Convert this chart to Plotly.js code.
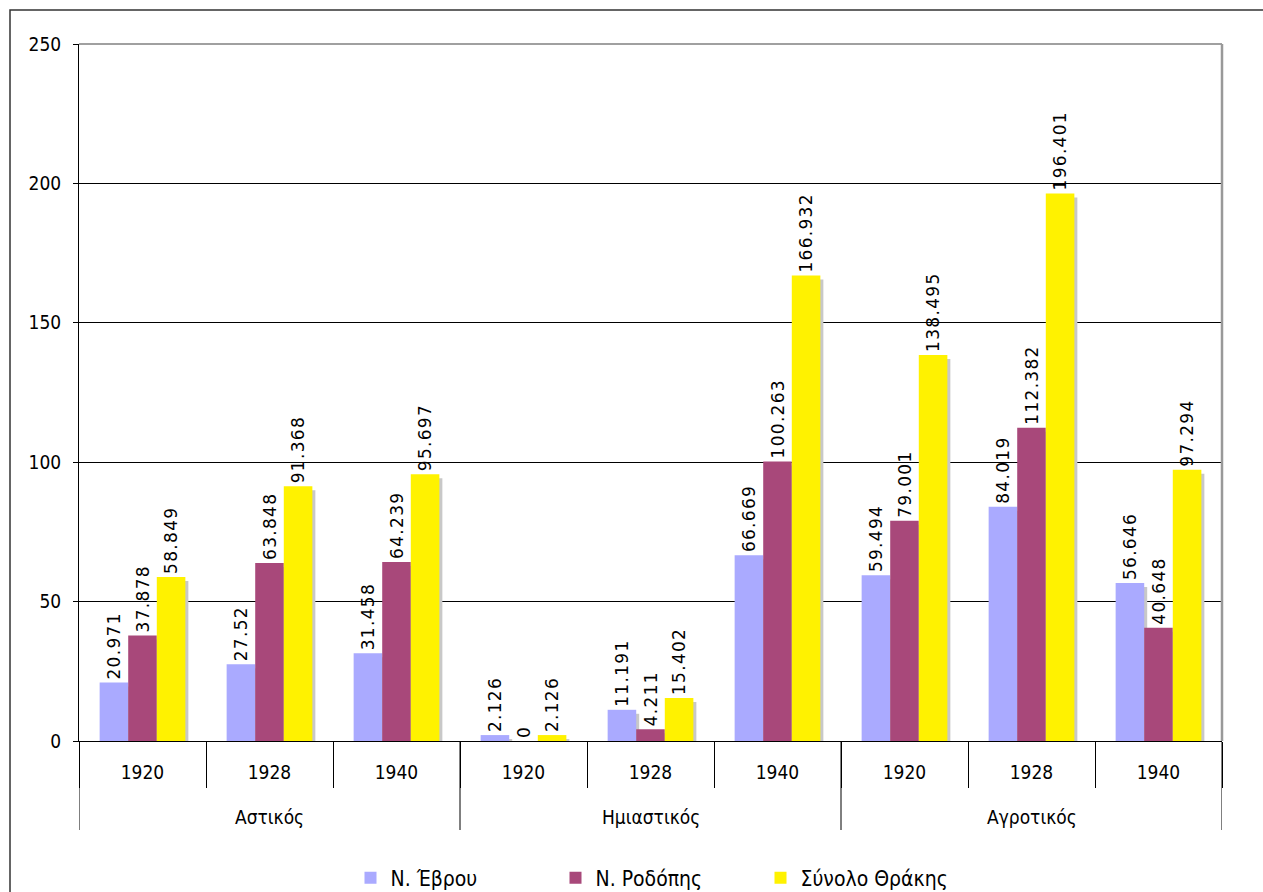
<!DOCTYPE html>
<html>
<head>
<meta charset="utf-8">
<script src="https://cdn.plot.ly/plotly-3.0.1.min.js"></script>
<style>
html,body{margin:0;padding:0;background:#fff;}
#chart{width:1263px;height:892px;}
text.bartext{letter-spacing:1.3px;}
</style>
</head>
<body>
<div id="chart"></div>
<script>
const groups = ['Αστικός','Αστικός','Αστικός','Ημιαστικός','Ημιαστικός','Ημιαστικός','Αγροτικός','Αγροτικός','Αγροτικός'];
const years = ['1920','1928','1940','1920','1928','1940','1920','1928','1940'];
const seriesNames = ['Ν. Έβρου','Ν. Ροδόπης','Σύνολο Θράκης'];
const evrou = [20.971, 27.52, 31.458, 2.126, 11.191, 66.669, 59.494, 84.019, 56.646];
const rodopis = [37.878, 63.848, 64.239, 0, 4.211, 100.263, 79.001, 112.382, 40.648];
const thrakis = [58.849, 91.368, 95.697, 2.126, 15.402, 166.932, 138.495, 196.401, 97.294];
const yTicks = [0, 50, 100, 150, 200, 250];

const colors = ['#aaaaff', '#a8487a', '#fff200'];
const series = [evrou, rodopis, thrakis];
const W = 1263, H = 892;
const mL = 79, mR = 41, mT = 44, mB = 151;
const plotW = W - mL - mR, plotH = H - mT - mB;
const barW = 0.225;
const start = -1.5 * barW;
const shadowDx = 3 / (plotW / 9);
const yMax = 250;
const shadowDy = yMax * 4 / plotH;
const labelFont = 'DejaVu Sans, Verdana, sans-serif';
const axisFont = 'DejaVu Sans Condensed, DejaVu Sans, sans-serif';

// unique category keys (group + year); the axis shows the year as tick text
const xCats = groups.map((g, i) => g + ' ' + years[i]);

const traces = [];
// drop shadows (drawn beneath, on a slightly shifted value axis)
series.forEach((vals, i) => {
  traces.push({
    type: 'bar', x: xCats, y: vals, xaxis: 'x', yaxis: 'y',
    width: barW, offset: start + i * barW + shadowDx,
    marker: {color: '#c8c8c8', line: {width: 0}},
    showlegend: false, hoverinfo: 'skip'
  });
});
// main bars
series.forEach((vals, i) => {
  traces.push({
    type: 'bar', x: xCats, y: vals, xaxis: 'x', yaxis: 'y2',
    name: seriesNames[i],
    width: barW, offset: start + i * barW,
    marker: {color: colors[i], line: {width: 0}},
    text: vals.map(v => String(v)),
    textposition: 'outside', textangle: -90, constraintext: 'none',
    cliponaxis: false,
    textfont: {family: labelFont, size: 17, color: '#000'}
  });
});

// group spans derived from the groups array
const spans = [];
groups.forEach((g, i) => {
  if (!spans.length || spans[spans.length - 1].name !== g) spans.push({name: g, first: i, last: i});
  else spans[spans.length - 1].last = i;
});
const groupLabelY = -(817 - (H - mB)) / plotH;
const dividerY = -(830 - (H - mB)) / plotH;
const annotations = spans.map(s => ({
  xref: 'x', yref: 'paper', x: (s.first + s.last) / 2, y: groupLabelY,
  text: s.name, showarrow: false, xanchor: 'center', yanchor: 'middle',
  font: {family: axisFont, size: 19, color: '#000'}
}));
const divX = [spans[0].first - 0.5].concat(spans.map(s => s.last + 0.5));
const shapes = divX.map(xv => ({
  type: 'line', xref: 'x', yref: 'paper', x0: xv, x1: xv, y0: 0, y1: dividerY,
  line: {color: '#000', width: 1}
}));
shapes.push(
  {type: 'line', xref: 'paper', yref: 'paper', x0: 0, x1: 1, y0: 1, y1: 1, line: {color: '#a0a0a0', width: 2}},
  {type: 'line', xref: 'paper', yref: 'paper', x0: 1, x1: 1, y0: 0, y1: 1, line: {color: '#999', width: 2.5}},
  {type: 'rect', xref: 'paper', yref: 'paper',
   x0: (10 - mL) / plotW, x1: 1.2, y0: -0.5, y1: 1 + (mT - 10) / plotH,
   line: {color: '#333', width: 1.5}, fillcolor: 'rgba(0,0,0,0)', layer: 'above'}
);

const layout = {
  width: W, height: H,
  margin: {l: mL, r: mR, t: mT, b: mB},
  paper_bgcolor: '#fff', plot_bgcolor: '#fff',
  barmode: 'overlay',
  showlegend: true,
  font: {family: axisFont, size: 19, color: '#000'},
  xaxis: {
    type: 'category', range: [-0.5, xCats.length - 0.5],
    tickvals: xCats, ticktext: years,
    showline: true, linecolor: '#000', linewidth: 1,
    ticks: 'outside', tickson: 'boundaries', ticklen: 46, tickcolor: '#000', tickwidth: 1,
    ticklabelstandoff: 14,
    showgrid: false, zeroline: false, automargin: false,
    tickfont: {family: axisFont, size: 19, color: '#000'}
  },
  yaxis: {
    range: [shadowDy, yMax + shadowDy],
    showticklabels: false, ticks: '', showgrid: false, zeroline: false, showline: false,
    fixedrange: true
  },
  yaxis2: {
    overlaying: 'y', side: 'left',
    range: [0, yMax], tickvals: yTicks, ticktext: yTicks.map(String),
    showgrid: true, gridcolor: '#000', gridwidth: 1,
    zeroline: false, showline: true, linecolor: '#000', linewidth: 1,
    ticks: 'outside', ticklen: 5, tickcolor: '#000', ticklabelstandoff: 8,
    tickfont: {family: axisFont, size: 19, color: '#000'}
  },
  legend: {
    orientation: 'h', xref: 'container', x: 658 / W, xanchor: 'center',
    yref: 'container', y: (H - 878) / H, yanchor: 'middle',
    font: {family: axisFont, size: 21, color: '#000'},
    entrywidth: 160, itemwidth: 30, traceorder: 'normal'
  },
  annotations: annotations,
  shapes: shapes
};

Plotly.newPlot('chart', traces, layout, {displayModeBar: false, staticPlot: true});
</script>
</body>
</html>
